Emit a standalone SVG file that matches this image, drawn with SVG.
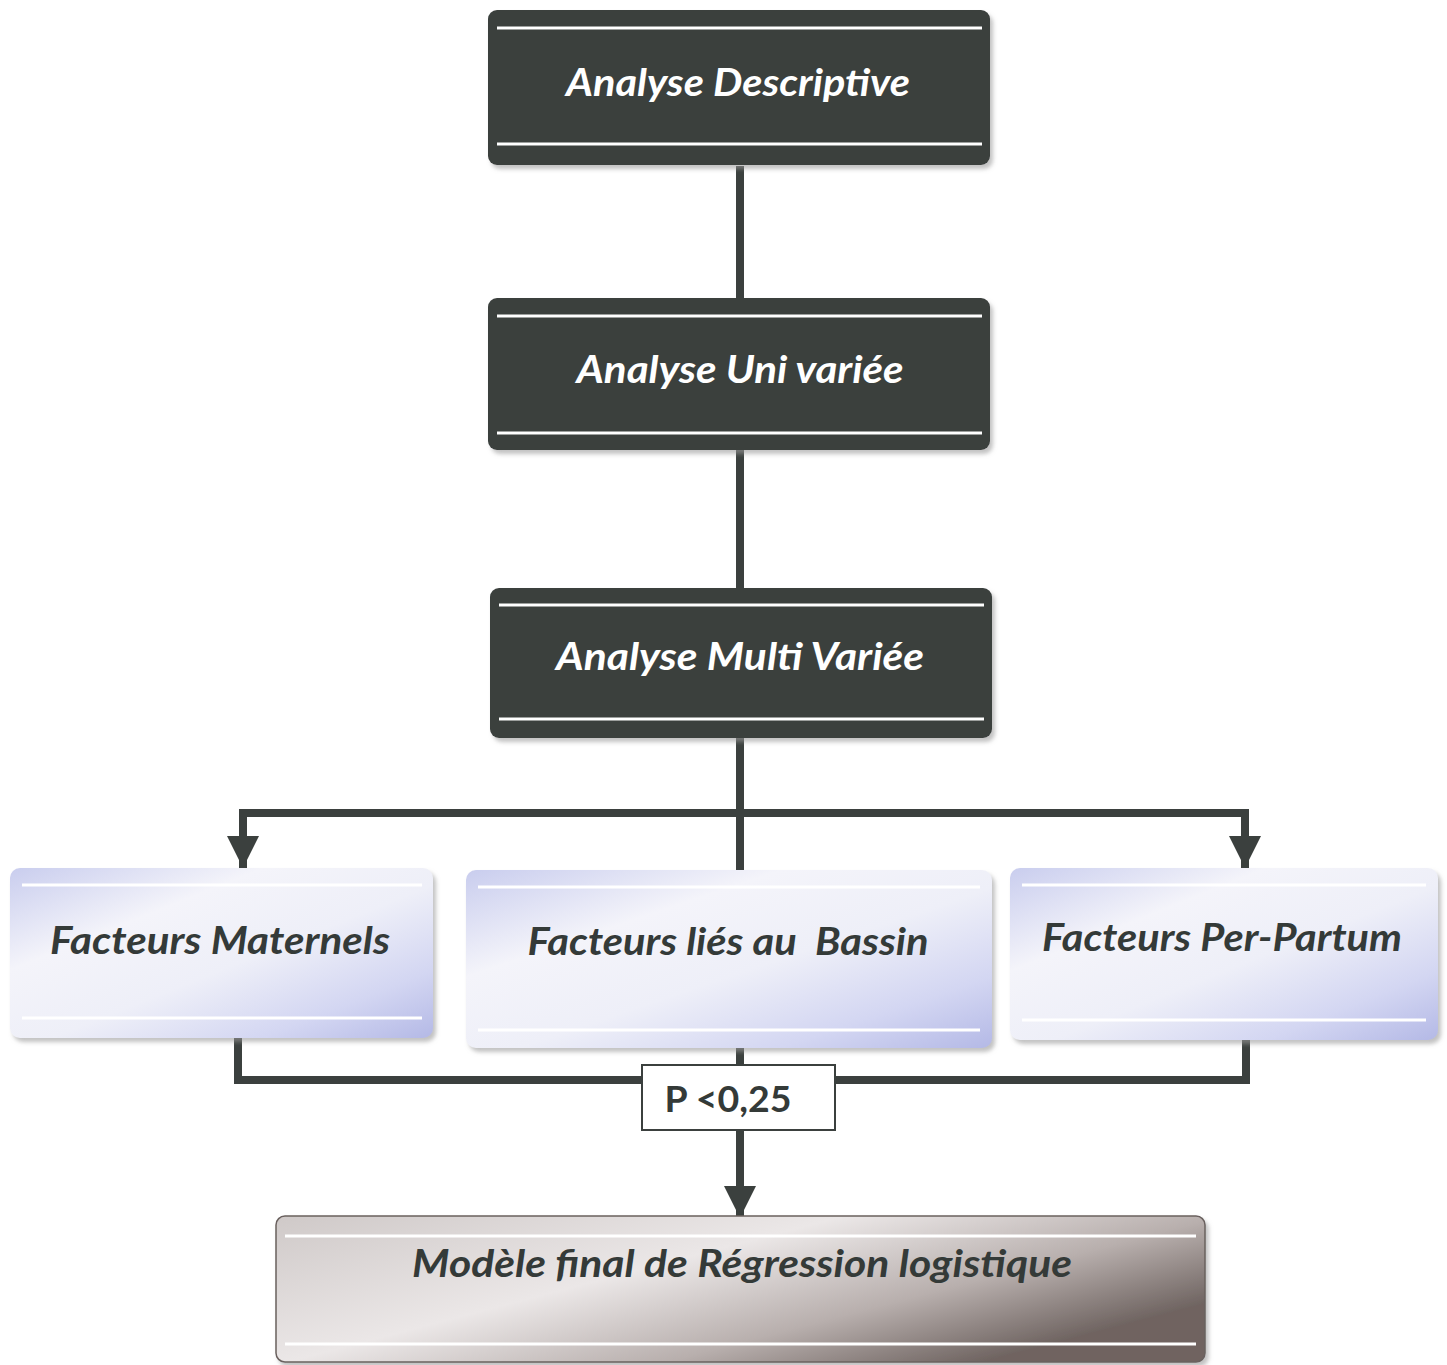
<svg xmlns="http://www.w3.org/2000/svg" width="1447" height="1365" viewBox="0 0 1447 1365">
<defs>
<linearGradient id="lav" x1="0" y1="0" x2="1" y2="1">
<stop offset="0" stop-color="#c9cdee"/>
<stop offset="0.3" stop-color="#f4f4fa"/>
<stop offset="0.55" stop-color="#eeeff8"/>
<stop offset="0.8" stop-color="#d3d6f2"/>
<stop offset="1" stop-color="#b4b9e6"/>
</linearGradient>
<linearGradient id="taupe" x1="0" y1="0" x2="1" y2="0.6">
<stop offset="0" stop-color="#cfc9c8"/>
<stop offset="0.45" stop-color="#ebe7e7"/>
<stop offset="0.75" stop-color="#b8afad"/>
<stop offset="1" stop-color="#6f6461"/>
</linearGradient>
<marker id="ah" viewBox="0 0 10 10" refX="10" refY="5" markerWidth="4" markerHeight="4.2" markerUnits="strokeWidth" orient="auto">
<path d="M0,0 L10,5 L0,10 z" fill="#3b403e"/>
</marker>
<filter id="sh" x="-5%" y="-10%" width="110%" height="125%">
<feDropShadow dx="3" dy="4" stdDeviation="2" flood-color="#9a9a9a" flood-opacity="0.6"/>
</filter>
</defs>
<style>
.dark{fill:#3b403e;filter:url(#sh)}
.light{fill:url(#lav);filter:url(#sh)}
.final{fill:url(#taupe);stroke:#6a615e;stroke-width:1.5;filter:url(#sh)}
.hl{stroke:#ffffff;stroke-width:3}
.conn{stroke:#3b403e;stroke-width:8;fill:none}
.tw{font-family:Lato,"Open Sans",sans-serif;font-style:italic;font-weight:bold;font-size:38px;fill:#ffffff;text-anchor:middle}
.tb{font-family:Lato,"Open Sans",sans-serif;font-style:italic;font-weight:bold;font-size:38px;fill:#343a38;text-anchor:middle}
.tp{font-family:Lato,"Open Sans",sans-serif;font-weight:bold;font-size:36px;fill:#343a38;text-anchor:middle}
</style>
<rect width="1447" height="1365" fill="#ffffff"/>
<g id="connectors">
<line class="conn" x1="740" y1="166" x2="740" y2="298"/>
<line class="conn" x1="740" y1="450" x2="740" y2="588"/>
<line class="conn" x1="740" y1="738" x2="740" y2="871"/>
<polyline class="conn" points="243,866 243,813 1245,813 1245,866"/>
<line class="conn" x1="243" y1="813" x2="243" y2="868" marker-end="url(#ah)"/>
<line class="conn" x1="1245" y1="813" x2="1245" y2="868" marker-end="url(#ah)"/>
<polyline class="conn" points="238,1038 238,1080 1246,1080 1246,1040"/>
<line class="conn" x1="740" y1="1048" x2="740" y2="1066"/>
<line class="conn" x1="740" y1="1130" x2="740" y2="1218" marker-end="url(#ah)"/>
</g>
<g id="n1">
<rect class="dark" x="488" y="10" width="502" height="155" rx="9"/>
<line class="hl" x1="497" y1="28" x2="982" y2="28"/>
<line class="hl" x1="497" y1="144" x2="982" y2="144"/>
<text class="tw" x="738" y="96" textLength="344" lengthAdjust="spacingAndGlyphs">Analyse Descriptive</text>
</g>
<g id="n2">
<rect class="dark" x="488" y="298" width="502" height="152" rx="9"/>
<line class="hl" x1="497" y1="316" x2="982" y2="316"/>
<line class="hl" x1="497" y1="433" x2="982" y2="433"/>
<text class="tw" x="740" y="383" textLength="327" lengthAdjust="spacingAndGlyphs">Analyse Uni variée</text>
</g>
<g id="n3">
<rect class="dark" x="490" y="588" width="502" height="150" rx="9"/>
<line class="hl" x1="499" y1="605" x2="984" y2="605"/>
<line class="hl" x1="499" y1="719" x2="984" y2="719"/>
<text class="tw" x="740" y="670" textLength="368" lengthAdjust="spacingAndGlyphs">Analyse Multi Variée</text>
</g>
<g id="n4">
<rect class="light" x="10" y="868" width="423" height="170" rx="10"/>
<line class="hl" x1="22" y1="885" x2="422" y2="885"/>
<line class="hl" x1="22" y1="1018" x2="422" y2="1018"/>
<text class="tb" x="220" y="954" textLength="340" lengthAdjust="spacingAndGlyphs">Facteurs Maternels</text>
</g>
<g id="n5">
<rect class="light" x="466" y="870" width="526" height="178" rx="10"/>
<line class="hl" x1="478" y1="887" x2="980" y2="887"/>
<line class="hl" x1="478" y1="1030" x2="980" y2="1030"/>
<text class="tb" x="728" y="955" textLength="401" lengthAdjust="spacingAndGlyphs">Facteurs liés au&#160; Bassin</text>
</g>
<g id="n6">
<rect class="light" x="1010" y="868" width="428" height="172" rx="10"/>
<line class="hl" x1="1022" y1="885" x2="1426" y2="885"/>
<line class="hl" x1="1022" y1="1020" x2="1426" y2="1020"/>
<text class="tb" x="1222" y="951" textLength="360" lengthAdjust="spacingAndGlyphs">Facteurs Per-Partum</text>
</g>
<g id="n7">
<rect x="642" y="1065" width="193" height="65" fill="#ffffff" stroke="#3b403e" stroke-width="2"/>
<text class="tp" x="728" y="1112" textLength="127" lengthAdjust="spacingAndGlyphs">P &lt;0,25</text>
</g>
<g id="n8">
<rect class="final" x="276" y="1216" width="929" height="146" rx="9"/>
<line class="hl" x1="285" y1="1236" x2="1196" y2="1236"/>
<line class="hl" x1="285" y1="1344" x2="1196" y2="1344"/>
<text class="tb" x="742" y="1277" textLength="660" lengthAdjust="spacingAndGlyphs">Modèle final de Régression logistique</text>
</g>
</svg>
